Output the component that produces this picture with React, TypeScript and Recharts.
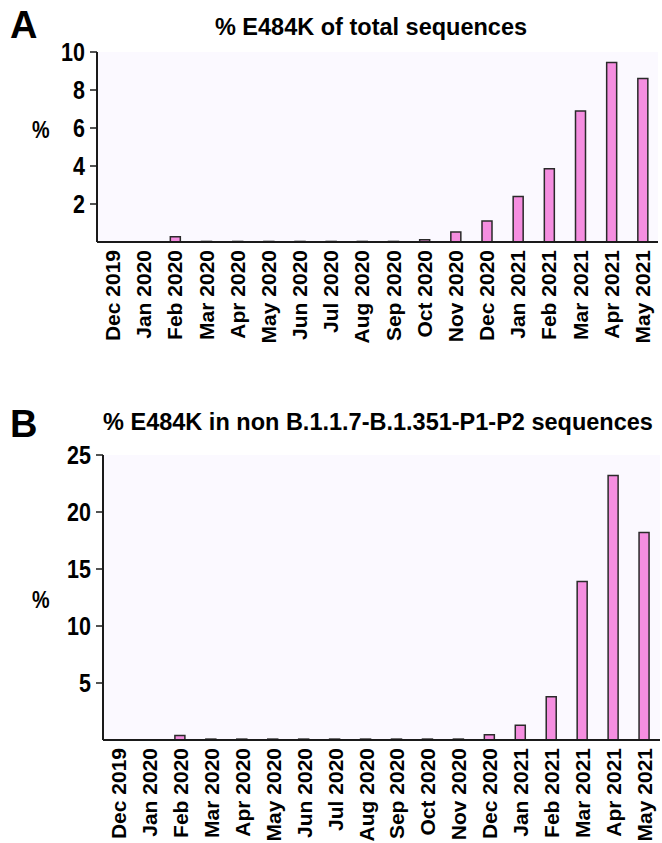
import { Bar, BarChart, CartesianGrid, XAxis, YAxis } from "recharts";

const months = [
  "Dec 2019", "Jan 2020", "Feb 2020", "Mar 2020", "Apr 2020", "May 2020",
  "Jun 2020", "Jul 2020", "Aug 2020", "Sep 2020", "Oct 2020", "Nov 2020",
  "Dec 2020", "Jan 2021", "Feb 2021", "Mar 2021", "Apr 2021", "May 2021",
];

// panel A: % E484K of all sequences
const totalPct = [0, 0, 0.28, 0.03, 0.03, 0.03, 0.03, 0.03, 0.03, 0.03, 0.12, 0.52, 1.1, 2.4, 3.85, 6.9, 9.45, 8.6];
const ticksA = [2, 4, 6, 8, 10];

// panel B: % E484K outside the main VOC lineages
const nonVocPct = [0, 0, 0.4, 0.08, 0.08, 0.08, 0.08, 0.08, 0.08, 0.08, 0.08, 0.08, 0.45, 1.3, 3.8, 13.9, 23.2, 18.2];
const ticksB = [5, 10, 15, 20, 25];

const dataA = months.map((m, i) => ({ month: m, pct: totalPct[i] }));
const dataB = months.map((m, i) => ({ month: m, pct: nonVocPct[i] }));

const FONT = "'Liberation Sans', Arial, sans-serif";
const PINK = "#f58ee0";
const INK = "#1a1a1a";

function MonthTick(props: any) {
  const { x, y, payload } = props;
  return (
    <text
      transform={`translate(${x},${y}) rotate(-90)`}
      textAnchor="end"
      dy={7.5}
      fontFamily={FONT}
      fontWeight="bold"
      fontSize={21}
      fill="#000"
    >
      {payload.value}
    </text>
  );
}

// condensed look of the original axis numbers
function ValueTick(props: any) {
  const { x, y, payload } = props;
  return (
    <text
      transform={`translate(${x},${y}) scale(0.86,1)`}
      textAnchor="end"
      dy="0.355em"
      fontFamily={FONT}
      fontWeight="bold"
      fontSize={25}
      fill="#000"
    >
      {payload.value}
    </text>
  );
}

function Panel({ data, ticks, max, top, yWidth, right, height, xHeight }: any) {
  return (
    <div style={{ position: "absolute", left: 0, top: 0 }}>
      <BarChart
        width={662}
        height={height}
        data={data}
        margin={{ top, right, bottom: 0, left: 0 }}
        barCategoryGap={0}
      >
        <CartesianGrid fill="#fbf9ff" horizontal={false} vertical={false} />
        <XAxis
          dataKey="month"
          interval={0}
          height={xHeight}
          tickLine={false}
          axisLine={{ stroke: INK, strokeWidth: 2 }}
          tick={<MonthTick />}
        />
        <YAxis
          width={yWidth}
          domain={[0, max]}
          ticks={ticks}
          interval={0}
          axisLine={{ stroke: INK, strokeWidth: 2 }}
          tickLine={{ stroke: INK, strokeWidth: 1.5 }}
          tickSize={7}
          tickMargin={5}
          tick={<ValueTick />}
        />
        <Bar dataKey="pct" fill={PINK} stroke="#2a2a2a" strokeWidth={1.5} barSize={10} isAnimationActive={false} />
      </BarChart>
    </div>
  );
}

const txt = (extra: any) => ({
  position: "absolute" as const,
  fontFamily: FONT,
  fontWeight: "bold" as const,
  lineHeight: 1,
  whiteSpace: "nowrap" as const,
  color: "#000",
  ...extra,
});

export default function App() {
  return (
    <div style={{ position: "absolute", left: 0, top: 0, width: 662, height: 843, background: "#fff" }}>
      <Panel data={dataA} ticks={ticksA} max={10} top={52} yWidth={97} right={4} height={350} xHeight={108} />
      <Panel data={dataB} ticks={ticksB} max={25} top={455} yWidth={103} right={2} height={843} xHeight={103} />

      <div style={txt({ left: 10, top: 6, fontSize: 38 })}>A</div>
      <div style={txt({ left: 371, top: 16, fontSize: 23.5, transform: "translateX(-50%)" })}>
        % E484K of total sequences
      </div>
      <div style={txt({ left: 32, top: 119, fontSize: 23, transform: "scaleX(0.86)", transformOrigin: "left" })}>%</div>

      <div style={txt({ left: 10, top: 405, fontSize: 38 })}>B</div>
      <div style={txt({ left: 378, top: 411, fontSize: 23.5, transform: "translateX(-50%)" })}>
        % E484K in non B.1.1.7-B.1.351-P1-P2 sequences
      </div>
      <div style={txt({ left: 32, top: 589, fontSize: 23, transform: "scaleX(0.86)", transformOrigin: "left" })}>%</div>
    </div>
  );
}
